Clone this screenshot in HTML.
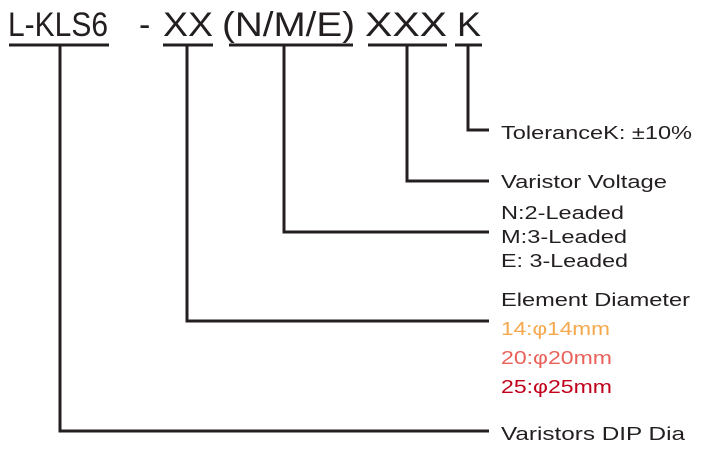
<!DOCTYPE html>
<html><head><style>body{margin:0;background:#fff}</style></head><body>
<svg width="708" height="459" xmlns="http://www.w3.org/2000/svg" font-family="Liberation Sans, sans-serif">
<g font-size="34" fill="#231f20">
<text x="8" y="36" textLength="100" lengthAdjust="spacingAndGlyphs">L-KLS6</text>
<text x="139" y="36">-</text>
<text x="163" y="36" textLength="50" lengthAdjust="spacingAndGlyphs">XX</text>
<text x="222" y="36" textLength="133" lengthAdjust="spacingAndGlyphs">(N/M/E)</text>
<text x="365" y="36" textLength="82" lengthAdjust="spacingAndGlyphs">XXX</text>
<text x="457" y="36" textLength="24" lengthAdjust="spacingAndGlyphs">K</text>
</g>
<g stroke="#231f20" stroke-width="3" fill="none">
<line x1="9" y1="45" x2="109" y2="45"/>
<line x1="163" y1="45" x2="213" y2="45"/>
<line x1="229" y1="45" x2="353" y2="45"/>
<line x1="368" y1="45" x2="447" y2="45"/>
<line x1="455" y1="45" x2="482" y2="45"/>
<polyline points="468,45 468,130 489,130"/>
<polyline points="407,45 407,181 489,181"/>
<polyline points="284,45 284,232 489,232"/>
<polyline points="187,45 187,321 489,321"/>
<polyline points="60,45 60,431 489,431"/>
</g>
<g font-size="18" fill="#231f20" lengthAdjust="spacingAndGlyphs">
<text x="501" y="139" textLength="191" lengthAdjust="spacingAndGlyphs">ToleranceK: ±10%</text>
<text x="501" y="188" textLength="166" lengthAdjust="spacingAndGlyphs">Varistor Voltage</text>
<text x="501" y="219" textLength="123" lengthAdjust="spacingAndGlyphs">N:2-Leaded</text>
<text x="501" y="243" textLength="126" lengthAdjust="spacingAndGlyphs">M:3-Leaded</text>
<text x="501" y="267" textLength="127" lengthAdjust="spacingAndGlyphs">E: 3-Leaded</text>
<text x="501" y="306" textLength="189" lengthAdjust="spacingAndGlyphs">Element Diameter</text>
<text x="501" y="335" textLength="109" lengthAdjust="spacingAndGlyphs" fill="#f5a84c">14:φ14mm</text>
<text x="501" y="364" textLength="111" lengthAdjust="spacingAndGlyphs" fill="#e8625a">20:φ20mm</text>
<text x="501" y="393" textLength="111" lengthAdjust="spacingAndGlyphs" fill="#c0001a">25:φ25mm</text>
<text x="501" y="440" textLength="184" lengthAdjust="spacingAndGlyphs">Varistors DIP  Dia</text>
</g>
</svg>
</body></html>
